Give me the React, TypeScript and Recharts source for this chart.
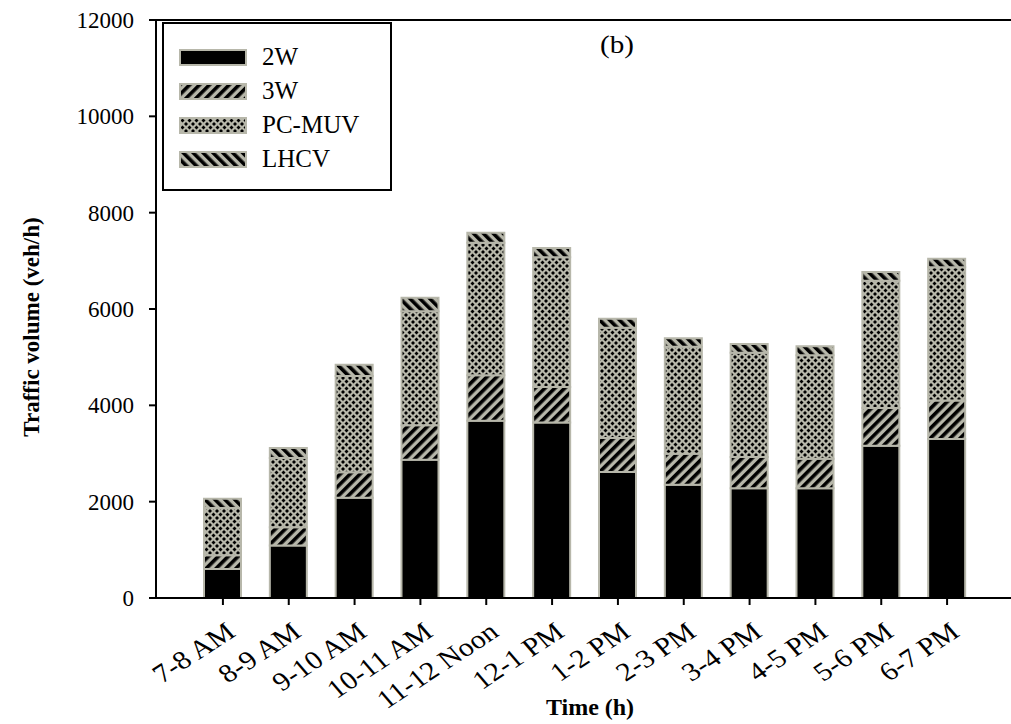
import React from 'react'
import { BarChart, Bar, XAxis, YAxis, ReferenceLine } from 'recharts'

const hours = ['7-8 AM', '8-9 AM', '9-10 AM', '10-11 AM', '11-12 Noon', '12-1 PM', '1-2 PM', '2-3 PM', '3-4 PM', '4-5 PM', '5-6 PM', '6-7 PM']
const twoW = [600, 1090, 2080, 2870, 3680, 3645, 2615, 2350, 2280, 2280, 3160, 3300]
const threeW = [290, 380, 530, 715, 945, 735, 705, 645, 645, 610, 785, 800]
const pcMuv = [980, 1435, 2000, 2370, 2750, 2695, 2290, 2220, 2165, 2150, 2640, 2765]
const lhcv = [190, 210, 230, 280, 210, 190, 185, 180, 185, 185, 185, 180]
const yTicks = [0, 2000, 4000, 6000, 8000, 10000, 12000]

const series = [
  { key: '2W', values: twoW, fill: '#000' },
  { key: '3W', values: threeW, fill: 'url(#p3w)' },
  { key: 'PC-MUV', values: pcMuv, fill: 'url(#pmuv)' },
  { key: 'LHCV', values: lhcv, fill: 'url(#plhcv)' },
]

const data = hours.map((h, i) => {
  const row: any = { hour: h }
  series.forEach(s => { row[s.key] = s.values[i] })
  return row
})

const GRAY = '#b7b7aa'
const FONT = '"Liberation Serif", "Times New Roman", serif'

// rotated hour labels, a bit widened like the scanned original
function HourTick(props: any) {
  const { x, y, payload } = props
  return (
    <g transform={`translate(${x + 14},${y + 28}) scale(1.15,1)`}>
      <text
        x={0}
        y={0}
        textAnchor="end"
        transform="rotate(-37)"
        fontSize={26}
        fontFamily={FONT}
        fill="#000"
      >
        {payload.value}
      </text>
    </g>
  )
}

export default function App() {
  return (
    <div style={{ position: 'absolute', left: 0, top: 0, width: 1011, height: 724, overflow: 'hidden', background: '#fff', fontFamily: FONT }}>
      <BarChart
        width={1014}
        height={724}
        data={data}
        margin={{ top: 20, right: 0, bottom: 0, left: 0 }}
        barSize={37}
      >
        <defs>
          <pattern id="p3w" width="7" height="7" patternUnits="userSpaceOnUse" patternTransform="rotate(45)">
            <rect width="7" height="7" fill={GRAY} />
            <rect width="3.6" height="7" fill="#000" />
          </pattern>
          <pattern id="plhcv" width="7" height="7" patternUnits="userSpaceOnUse" patternTransform="rotate(-45)">
            <rect width="7" height="7" fill={GRAY} />
            <rect width="3.6" height="7" fill="#000" />
          </pattern>
          <pattern id="pmuv" width="7" height="7" patternUnits="userSpaceOnUse">
            <rect width="7" height="7" fill={GRAY} />
            <polygon points="3.5,1.5 5.5,3.5 3.5,5.5 1.5,3.5" fill="#000" />
            <polygon points="0,-2 2,0 0,2 -2,0" fill="#000" />
            <polygon points="7,-2 9,0 7,2 5,0" fill="#000" />
            <polygon points="0,5 2,7 0,9 -2,7" fill="#000" />
            <polygon points="7,5 9,7 7,9 5,7" fill="#000" />
          </pattern>
        </defs>
        <XAxis
          dataKey="hour"
          interval={0}
          height={126}
          padding={{ left: 34, right: 34 }}
          axisLine={{ stroke: '#000', strokeWidth: 2 }}
          tickLine={{ stroke: '#000', strokeWidth: 2 }}
          tickSize={7}
          tickMargin={2}
          tick={<HourTick />}
          label={{
            content: (p: any) => {
              const vb = p.viewBox
              return (
                <text x={vb.x + vb.width / 2 + 5} y={vb.y + 117} textAnchor="middle" fontSize={24} fontWeight="bold" fontFamily={FONT} fill="#000">
                  Time (h)
                </text>
              )
            },
          }}
        />
        <YAxis
          domain={[0, 12000]}
          ticks={yTicks}
          width={156}
          interval={0}
          axisLine={{ stroke: '#000', strokeWidth: 2 }}
          tickLine={{ stroke: '#000', strokeWidth: 2 }}
          tickSize={7}
          tickMargin={15}
          tick={{ fontSize: 23, fontFamily: FONT, fill: '#000' }}
          label={{
            content: (p: any) => {
              const vb = p.viewBox
              const cx = vb.x + 31
              const cy = vb.y + vb.height / 2 + 18
              return (
                <text x={cx} y={cy} transform={`rotate(-90 ${cx} ${cy})`} textAnchor="middle" dominantBaseline="central" fontSize={23} fontWeight="bold" fontFamily={FONT} fill="#000">
                  Traffic volume (veh/h)
                </text>
              )
            },
          }}
        />
        <ReferenceLine y={12000} stroke="#000" strokeWidth={2} />
        {series.map(s => (
          <Bar
            key={s.key}
            dataKey={s.key}
            stackId="a"
            fill={s.fill}
            stroke={GRAY}
            strokeWidth={2}
            isAnimationActive={false}
          />
        ))}
      </BarChart>
      <div
        style={{
          position: 'absolute',
          left: 162,
          top: 22,
          width: 226,
          height: 165,
          border: '2px solid #000',
          background: '#fff',
          boxSizing: 'content-box',
        }}
      >
        {series.map((s, i) => (
          <div key={s.key} style={{ position: 'absolute', left: 15, top: 19 + i * 34, display: 'flex', alignItems: 'center', height: 28 }}>
            <svg width={68} height={17} style={{ display: 'block' }}>
              <rect x={1} y={1} width={66} height={15} fill={s.fill} stroke={GRAY} strokeWidth={2} />
            </svg>
            <span style={{ marginLeft: 15, fontSize: 25, lineHeight: '28px', color: '#000' }}>{s.key}</span>
          </div>
        ))}
      </div>
      <div style={{ position: 'absolute', left: 600, top: 30, fontSize: 26, color: '#000', transform: 'scaleX(1.12)', transformOrigin: 'left top' }}>(b)</div>
    </div>
  )
}
